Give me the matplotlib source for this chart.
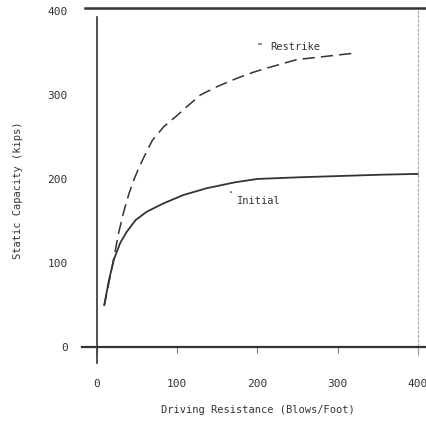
import matplotlib
matplotlib.use('Agg')
import matplotlib.pyplot as plt
from matplotlib.ticker import FixedLocator

# values
initial_x = [9, 15, 21, 29, 37, 48, 62, 83, 108, 137, 172, 200, 253, 353, 400]
initial_y = [50, 80, 104, 124, 137, 151, 161, 171, 181, 189, 196, 200, 202, 205, 206]

restrike_x = [9, 21, 27, 33, 40, 46, 52, 60, 69, 83, 98, 112, 129, 150, 175, 195, 212, 249, 324]
restrike_y = [49, 106, 136, 160, 183, 199, 213, 229, 246, 262, 274, 286, 300, 310, 320, 327, 332, 342, 350]

xticks = [0, 100, 200, 300, 400]
yticks = [0, 100, 200, 300, 400]

ink = '#333333'
font = 'DejaVu Sans Mono'

fig = plt.figure(figsize=(4.26, 4.21), dpi=100)
ax = fig.add_axes([0.1925, 0.1378, 0.8075, 0.8504])

ax.plot(initial_x, initial_y, color=ink, lw=1.3)
ax.plot(restrike_x, restrike_y, color=ink, lw=1.1, dashes=(8, 4))

ax.set_xlim(-18.7, 410)
ax.set_ylim(-19, 407)

# frame lines like the scanned original
ax.spines['left'].set_position(('data', 0))
ax.spines['left'].set_bounds(-19, 393)
ax.spines['left'].set_linewidth(1.2)
ax.spines['left'].set_color(ink)
ax.spines['bottom'].set_position(('data', 0))
ax.spines['bottom'].set_linewidth(1.6)
ax.spines['bottom'].set_color(ink)
ax.spines['top'].set_position(('data', 403))
ax.spines['top'].set_bounds(-15, 410)
ax.spines['top'].set_linewidth(1.8)
ax.spines['top'].set_color(ink)
ax.spines['right'].set_position(('data', 400))
ax.spines['right'].set_bounds(-10, 403)
ax.spines['right'].set_linewidth(0.8)
ax.spines['right'].set_color('#aaaaaa')
ax.spines['right'].set_linestyle((0, (2, 2)))

ax.set_xticks(xticks)
ax.set_xticklabels([str(v) for v in xticks], fontfamily=font, fontsize=8, color=ink)
ax.tick_params(axis='x', length=4, width=0.8, color='#777777', pad=19)

ax.set_yticks(yticks)
ax.set_yticklabels([str(v) for v in yticks], fontfamily=font, fontsize=8, color=ink)
ax.tick_params(axis='y', which='major', length=0, pad=21)
ax.yaxis.set_minor_locator(FixedLocator([100, 200, 300]))
ax.tick_params(axis='y', which='minor', length=10.8, width=1.2, color=ink)

ax.text(216, 357, 'Restrike', fontfamily=font, fontsize=7.5, color=ink, va='center')
ax.text(200, 360, '=', fontfamily=font, fontsize=5, color=ink, va='center')
ax.text(174, 174, 'Initial', fontfamily=font, fontsize=7.5, color=ink, va='center')
ax.text(163, 187, '.', fontfamily=font, fontsize=7, color=ink, va='center')

fig.text(258 / 426, 1 - 410 / 421, 'Driving Resistance (Blows/Foot)',
         fontfamily=font, fontsize=7.5, color=ink, ha='center', va='center')
fig.text(18 / 426, 1 - 190 / 421, 'Static Capacity (kips)', rotation=90,
         fontfamily=font, fontsize=7.5, color=ink, ha='center', va='center')

fig.savefig('out.png', dpi=100)
